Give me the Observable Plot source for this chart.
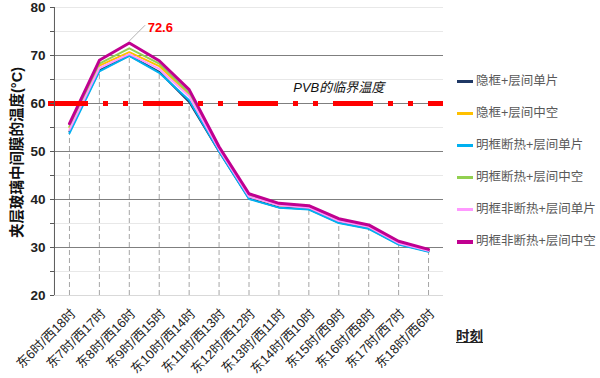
<!DOCTYPE html>
<html><head><meta charset="utf-8">
<script src="https://cdn.jsdelivr.net/npm/d3@7"></script>
<script src="https://cdn.jsdelivr.net/npm/@observablehq/plot@0.6"></script>
<style>
body{margin:0;background:#fff;font-family:"Liberation Sans","Noto Sans CJK SC",sans-serif;}
#wrap{position:relative;width:600px;height:378px;}
.leg{position:absolute;left:457px;font-size:12.5px;color:#595959;white-space:nowrap;}
.leg span.sw{display:inline-block;width:16px;vertical-align:middle;margin-right:3px;}
#xl{position:absolute;left:456px;top:325px;font-size:13.5px;font-weight:bold;text-decoration:underline;color:#222;}
</style></head>
<body><div id="wrap"></div>
<script>
const categories = ["东6时/西18时","东7时/西17时","东8时/西16时","东9时/西15时","东10时/西14时","东11时/西13时","东12时/西12时","东13时/西11时","东14时/西10时","东15时/西9时","东16时/西8时","东17时/西7时","东18时/西6时"];
const seriesNames = ["隐框+层间单片","隐框+层间中空","明框断热+层间单片","明框断热+层间中空","明框非断热+层间单片","明框非断热+层间中空"];
const seriesColors = ["#1F3864","#FFC000","#00B0F0","#92D050","#FF99FF","#C00090"];
const seriesWidths = [2,2,2,2,2,3];
const s1 = [54.2,66.9,70.0,66.6,60.3,50.0,40.2,38.4,38.0,35.2,34.0,30.7,29.2];
const s2 = [55.0,67.9,70.7,67.8,61.8,50.5,40.7,38.8,38.4,35.6,34.3,31.0,29.4];
const s3 = [53.8,66.7,69.9,66.4,60.7,50.0,40.1,38.3,37.9,35.1,33.9,30.6,29.1];
const s4 = [55.2,68.3,71.5,68.3,62.2,50.7,40.9,39.0,38.5,35.8,34.5,31.1,29.4];
const s5 = [54.5,67.4,70.3,67.2,61.5,50.4,40.6,38.8,38.3,35.5,34.3,30.9,29.3];
const s6 = [55.8,69.0,72.6,68.9,62.9,51.0,41.2,39.2,38.7,36.0,34.7,31.3,29.6];
const seriesValues = [s1,s2,s3,s4,s5,s6];
const yMajorTicks = [20,30,40,50,60,70,80];
const yMinorTicks = [25,35,45,55,65,75];
const pvbValue = 60;
const pvbLabel = "PVB的临界温度";
const yLabel = "夹层玻璃中间膜的温度(°C)";
const xLabel = "时刻";

const data = seriesValues.flatMap((vals, i) => vals.map((v, j) => ({series: seriesNames[i], time: categories[j], value: v})));
const dropData = categories.map((c, j) => ({time: c, top: Math.min(...seriesValues.map(s => s[j]))}));
const peakVal = Math.max(...s6);
const peak = {time: categories[s6.indexOf(peakVal)], value: peakVal};
const pvbNote = {time: categories[9], value: pvbValue, label: pvbLabel};

const lineMarks = seriesNames.map((name, i) =>
  Plot.line(data.filter(d => d.series === name), {x: "time", y: "value", stroke: seriesColors[i], strokeWidth: seriesWidths[i], strokeLinejoin: "round"}));

const chart = Plot.plot({
  width: 600, height: 378,
  marginLeft: 54, marginRight: 157, marginTop: 7, marginBottom: 83,
  style: {fontFamily: '"Liberation Sans","Noto Sans CJK SC",sans-serif', background: "#fff"},
  x: {type: "point", domain: categories, padding: 0.5, round: false},
  y: {domain: [20, 80]},
  marks: [
    Plot.gridY(yMinorTicks, {stroke: "#e8e8e8", strokeOpacity: 1}),
    Plot.gridY([80], {stroke: "#e8e8e8", strokeOpacity: 1}),
    Plot.gridY([30,40,50,60,70], {stroke: "#7f7f7f", strokeOpacity: 1, strokeWidth: 1}),
    Plot.ruleY([20], {stroke: "#d9d9d9"}),
    Plot.ruleX(dropData, {x: "time", y1: 20, y2: "top", stroke: "#a6a6a6", strokeDasharray: "5,3", strokeWidth: 1}),
    ...lineMarks,
    Plot.ruleY([pvbValue], {stroke: "#ff0000", strokeWidth: 5, strokeDasharray: "40,15,5,15,5,15", insetLeft: -6}),
    Plot.text([pvbNote], {x: "time", y: "value", text: "label", dy: -16, fontStyle: "italic", fontSize: 13, fill: "#111"}),
    Plot.vector([peak], {x: "time", y: "value", length: 22, rotate: 45, anchor: "start", dy: -2, stroke: "#a6a6a6", strokeWidth: 0.8,
      shape: {draw(context, l) { context.moveTo(0, 0); context.lineTo(0, -l); }}}),
    Plot.text([peak], {x: "time", y: "value", text: d => String(d.value), dx: 31, dy: -15, fill: "#ff0000", fontSize: 13, fontWeight: "bold"}),
    Plot.axisY(yMinorTicks.concat(yMajorTicks), {tickSize: 4, text: null, label: null, stroke: "#595959"}),
    Plot.axisY(yMajorTicks, {tickSize: 0, tickPadding: 9, fontSize: 13.5, fontWeight: "bold", label: null, fill: "#222"}),
    Plot.ruleX([categories[0]], {x: d => d, stroke: "#595959", dx: -15}),
    Plot.axisX({tickSize: 0, tickRotate: -45, tickPadding: 16, dx: 4, fontSize: 13, label: null, fill: "#222"}),
    Plot.text([yLabel], {frameAnchor: "left", text: d => d, rotate: -90, textAnchor: "middle", dx: -37, dy: 1, fontSize: 14.5, fontWeight: "bold", fill: "#111"})
  ]
});
const wrap = document.getElementById("wrap");
wrap.appendChild(chart);
const legTops = [79,111,143,175,207,239];
seriesNames.forEach((n, i) => {
  const d = document.createElement("div");
  d.className = "leg";
  d.style.top = (legTops[i] - 9) + "px";
  d.innerHTML = `<span class="sw" style="border-top:${seriesWidths[i]+1}px solid ${seriesColors[i]}"></span>${n}`;
  wrap.appendChild(d);
});
const xl = document.createElement("div");
xl.id = "xl"; xl.textContent = xLabel;
wrap.appendChild(xl);
</script></body></html>
